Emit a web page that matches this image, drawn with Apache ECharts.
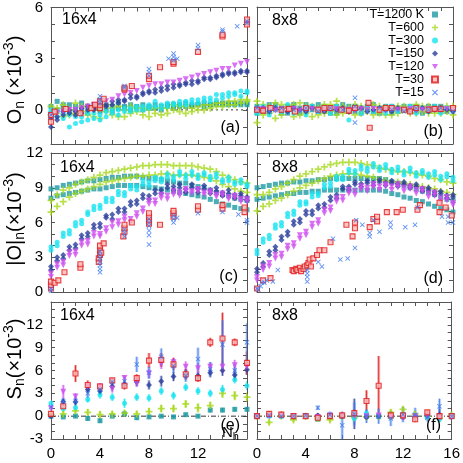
<!DOCTYPE html>
<html><head><meta charset="utf-8">
<script src="https://cdn.jsdelivr.net/npm/echarts@6/dist/echarts.min.js"></script>
<style>html,body{margin:0;padding:0;background:#fff}#c{width:463px;height:463px}</style>
</head><body><div id="c"></div>
<script>
// ---------------- DATA ----------------
const names = ['T=1200 K','T=600','T=300','T=150','T=120','T=30','T=15'];
const xTicks = [0,4,8,12,16];
const xHalf = [0,0.5,1,1.5,2,2.5,3,3.5,4,4.5,5,5.5,6,6.5,7,7.5,8,8.5,9,9.5,10,10.5,11,11.5,12,12.5,13,13.5,14,14.5,15,15.5,16];
const xInt = [0,1,2,3,4,5,6,7,8,9,10,11,12,13,14,15,16];

// (a) O_n, 16x4
const a_T1200_A = [0.2,0.5,0.1,0.3,0.0,0.4,0.2,0.3,-0.1,0.3,0.2,0.4,0.1,0.3,0.2,0.3,0.1,0.3,0.2,0.3,0.3,0.2,0.4,0.3,0.3,0.4,0.3,0.4,0.3,0.4,0.4,0.3,0.4];
const a_T1200_B = [-0.2,0.0,0.3,-0.1,0.2,0.0,-0.2,0.1,0.2,0.0,-0.1,0.1,0.2,0.0,0.1,0.0,0.2,0.1,0.0,0.2,0.1,0.3,0.2,0.2,0.3,0.2,0.3,0.3,0.4,0.3,0.3,0.4,0.3];
const a_T600_A = [-0.3,0.1,-0.4,0.0,-0.2,0.2,-0.3,0.0,-0.5,-0.1,0.1,-0.4,0.0,-0.2,0.1,-0.3,0.0,0.1,-0.3,0.1,0.0,0.2,-0.2,0.1,0.2,0.0,0.3,0.2,0.4,0.3,0.5,0.4,0.6];
const a_T600_B = [0.2,-0.2,0.3,-0.3,0.4,-0.1,0.2,-0.4,0.1,0.3,-0.3,0.2,-0.4,0.2,-0.1,0.1,-0.4,-0.2,0.1,-0.2,0.3,-0.1,0.2,-0.1,0.0,0.3,0.1,0.4,0.2,0.5,0.3,0.6,0.5];
const a_T300_A = [-0.3,-0.1,-0.5,-0.3,-0.8,-0.4,-0.2,-0.5,-0.3,-0.1,-0.2,0.0,-0.1,0.1,0.0,0.2,0.3,0.2,0.1,0.4,0.3,0.3,0.5,0.4,0.6,0.5,0.7,0.6,0.9,0.8,1.0,1.1,1.1];
const a_T300_B = [0.0,-0.4,-0.2,-1.0,-0.4,-0.7,-0.6,-0.2,-0.6,-0.4,0.0,-0.3,0.1,-0.1,0.2,0.0,0.1,0.5,0.3,0.2,0.4,0.5,0.3,0.6,0.4,0.7,0.5,0.9,0.7,1.0,0.9,0.8,1.0];
const a_T150_A = [-1.0,-0.4,-0.3,-0.2,-0.1,-0.2,0.0,0.1,0.2,0.3,0.5,0.4,0.6,0.7,0.8,1.0,1.1,1.2,1.3,1.2,1.3,1.5,1.6,1.5,1.7,1.8,1.9,2.0,2.1,2.1,2.2,2.2,2.3];
const a_T150_B = [-0.5,-0.6,-0.1,0.0,-0.3,0.1,0.2,0.0,0.4,0.2,0.3,0.6,0.5,0.9,0.7,0.9,1.0,1.0,1.1,1.4,1.5,1.4,1.5,1.7,1.6,1.9,1.8,1.9,2.0,2.2,2.1,2.3,2.2];
const a_T120_A = [-0.3,-0.2,-0.1,0.0,0.0,0.1,0.2,0.3,0.5,0.5,0.6,0.8,0.9,1.0,1.1,1.3,1.4,1.5,1.5,1.6,1.6,1.7,1.8,1.9,2.0,2.1,2.2,2.3,2.4,2.4,2.6,2.7,2.8];
const a_T30 = [[0,-0.7],[0,-0.3],[0.3,-0.1],[1.2,0.05],[2.4,-0.2],[3.3,0.1],[3.6,0.3],[4,0.1],[4,0.3],[4,0.5],[4.3,0.65],[6,1.2],[6,1.3],[6.6,1.4],[8,1.8],[8,2.0],[8.9,2.5],[10,2.7],[10,2.8],[12,3.4],[14,4.3],[14,4.4],[16,5.0],[16,5.3]];
const a_T15 = [[0,-0.3],[4,0.4],[4,0.6],[4,0.8],[6,1.3],[6,1.4],[8,2.0],[8,2.2],[8,2.4],[9.6,3.0],[10,2.9],[10,3.1],[10,3.3],[10.3,3.0],[12,3.6],[12,3.8],[14,4.6],[14,4.7],[15.2,4.9],[16,5.1],[16,5.2]];

// (b) O_n, 8x8
const b_T1200_A = [0.2,-0.1,0.3,0.0,-0.2,0.2,0.1,-0.2,0.3,0.0,-0.1,0.2,0.1,-0.2,0.0,0.2,-0.1,0.1,0.2,-0.1,0.0,0.2,-0.2,0.1,0.0,0.2,-0.1,0.1,0.0,0.2,-0.1,0.1,0.0];
const b_T1200_B = [-0.2,0.1,-0.1,0.3,0.1,-0.2,0.3,0.1,-0.1,0.2,0.3,-0.1,-0.2,0.2,0.3,-0.1,0.2,-0.2,0.0,0.3,-0.2,0.0,0.2,-0.1,0.2,-0.1,0.2,-0.2,0.2,0.0,0.2,-0.1,0.1];
const b_T600_A = [0.5,-0.3,0.2,-0.5,0.3,0.1,-0.4,0.4,-0.2,0.2,-0.3,0.3,-0.1,0.5,-0.2,0.1,-0.3,0.2,-0.1,0.3,-0.2,0.1,-0.3,0.2,0.0,-0.2,0.3,-0.1,0.2,-0.2,0.1,-0.1,0.2];
const b_T600_B = [-0.75,0.3,-0.2,0.4,-0.3,0.2,0.3,-0.3,0.2,-0.4,0.1,-0.2,0.3,-0.3,0.2,-0.1,0.3,-0.2,0.1,-0.3,0.2,-0.3,0.1,-0.2,0.2,0.1,-0.2,0.2,-0.2,0.1,-0.2,0.2,-0.3];
const b_T300_A = [-0.2,0.2,-0.3,0.1,-0.1,0.3,-0.2,0.0,-0.3,0.2,-0.1,0.1,-0.2,0.2,0.0,-0.6,0.1,-0.2,0.2,-0.1,0.1,-0.2,0.2,-0.1,0.0,0.2,-0.2,0.1,-0.1,0.2,-0.2,0.1,0.0];
const b_T150_A = [0.0,0.1,-0.1,0.1,0.0,-0.1,0.1,0.0,-0.1,0.1,0.0,-0.1,0.1,0.0,0.1,-0.1,0.0,0.1,-0.1,0.0,0.1,0.0,-0.1,0.1,0.0,-0.1,0.0,0.1,-0.1,0.0,0.1,0.0,-0.1];
const b_T120_A = [0.0,0.05,0.0,-0.05,0.05,0.0,0.05,-0.05,0.0,0.05,0.0,-0.05,0.0,0.05,0.0,0.0,-0.05,0.05,0.0,0.05,0.0,-0.05,0.05,0.0,0.0,0.05,-0.05,0.0,0.05,0.0,-0.05,0.05,0.0];
const b_T30 = [[0,0.0],[0.5,-0.05],[1.1,0.1],[2,0.0],[2.6,0.05],[3.1,-0.1],[4,0.1],[5,0.0],[5.5,0.1],[6,0.1],[6.9,0.0],[7.5,-0.05],[8,0.1],[9.1,0.4],[9.2,-1.05],[10,0.0],[10.5,0.1],[11,0.1],[12,0.0],[12.5,-0.1],[13,0.1],[14,0.0],[14.5,0.05],[15,0.05],[16,0.1]];
const b_T15 = [[0,0.1],[1,-0.1],[2,0.1],[3,0.0],[4,0.1],[5,-0.1],[6,0.1],[7,0.0],[8,0.7],[8,-0.75],[8,0.2],[9,-0.1],[10,0.1],[11,0.0],[12,-0.1],[13,0.1],[14,0.0],[15,0.1],[16,-0.1]];

// (c) |O|_n, 16x4
const c_T1200_lo = [8.1,8.3,8.4,8.5,8.6,8.7,8.8,8.9,8.9,9.0,9.1,9.2,9.2,9.2,9.2,9.1,9.0,9.0,8.9,8.8,8.7,8.6,8.5,8.4,8.3,8.2,8.0,7.8,7.6,7.5,7.3,7.2,7.1];
const c_T1200_hi = [8.9,9.0,9.2,9.3,9.4,9.5,9.6,9.6,9.7,9.8,9.9,9.9,10.0,10.0,10.0,9.9,9.8,9.8,9.7,9.6,9.5,9.4,9.4,9.2,9.1,9.0,8.8,8.6,8.4,8.3,8.1,8.0,7.9];
const c_T600_lo = [6.9,7.4,7.8,8.2,8.5,8.7,8.9,9.1,9.3,9.5,9.6,9.7,9.8,9.9,10.0,10.0,10.1,10.1,10.2,10.2,10.1,10.1,10.1,10.1,10.0,9.9,9.8,9.6,9.3,9.1,8.9,8.7,8.6];
const c_T600_hi = [7.9,8.4,8.8,9.0,9.3,9.5,9.7,9.9,10.1,10.3,10.4,10.5,10.6,10.7,10.8,10.9,10.9,11.0,11.0,11.0,10.9,10.9,10.9,10.9,10.8,10.7,10.6,10.4,10.1,9.9,9.7,9.5,9.4];
const c_T300_A = [3.6,4.3,4.8,5.3,5.7,6.2,6.7,7.1,7.5,7.8,8.1,8.4,8.6,8.9,9.1,9.3,9.5,9.6,9.8,9.9,10.0,10.1,10.1,10.1,10.1,10.1,10.0,9.9,9.7,9.6,9.5,9.4,9.3];
const c_T300_B = [3.9,4.0,5.1,5.0,6.0,5.9,6.9,7.4,7.2,8.1,7.8,8.7,8.3,9.2,8.8,9.6,9.2,9.9,9.5,10.2,9.7,10.4,9.8,10.4,9.8,10.3,9.7,10.2,9.5,9.9,9.3,9.7,9.1];
const c_T150_A = [2.2,2.7,3.2,3.6,4.1,4.6,5.1,5.5,5.9,6.4,6.7,6.9,7.2,7.5,7.9,8.1,8.3,8.5,8.8,9.0,9.1,9.0,8.9,9.0,8.9,8.9,8.8,8.7,8.6,8.5,8.4,8.3,8.2];
const c_T150_B = [1.9,3.0,2.9,3.9,3.8,4.9,4.8,5.8,5.6,6.6,6.3,7.2,6.9,7.8,7.6,8.4,8.0,8.8,8.5,9.3,8.8,9.3,8.6,9.3,8.6,9.2,8.5,9.0,8.3,8.8,8.1,8.5,7.9];
const c_T120_A = [1.6,2.1,2.6,3.1,3.5,4.0,4.4,4.8,5.0,5.5,6.0,6.1,6.2,6.3,6.5,7.2,7.6,7.9,8.1,8.3,8.4,8.6,8.7,8.7,8.7,8.6,8.5,8.4,8.3,8.2,8.1,8.0,7.8];
const c_T120_B = [1.3,2.4,2.3,3.4,3.2,4.3,4.1,5.1,4.8,5.2,5.6,5.8,6.5,6.0,6.8,6.9,7.9,7.6,8.4,8.0,8.7,8.3,8.9,8.5,8.9,8.4,8.7,8.2,8.5,8.0,8.3,7.8,8.0];
const c_T30 = [[0,0.3],[0,0.6],[0,0.9],[0.3,0.8],[0.6,1.0],[1.1,1.7],[2.4,2.1],[2.4,2.4],[3.9,2.6],[3.9,2.9],[4,3.2],[4,3.6],[4,4.0],[4.1,3.4],[4.3,4.2],[5.9,4.8],[6,5.2],[6,5.5],[6,5.8],[6.6,6.0],[8,5.9],[8,6.2],[8,6.5],[8,6.8],[8.9,5.8],[10,6.5],[10,6.8],[10,7.0],[12,7.1],[12,7.4],[14,7.2],[14,7.5],[15.8,6.9],[15.8,7.3]];
const c_T15 = [[0,0.1],[0,0.3],[4,1.7],[4,2.0],[4,2.3],[4,2.6],[4,2.9],[4,3.2],[4,3.5],[6,4.8],[6,5.1],[6,5.4],[8,4.1],[8,4.9],[8,5.3],[8,5.7],[8,6.0],[8,6.3],[10,6.0],[10,6.3],[10,6.6],[10.3,6.4],[12,6.8],[14,6.9],[15.3,6.7],[16,6.2],[16,6.0]];

// (d) |O|_n, 8x8
const d_T1200_lo = [8.0,8.1,8.2,8.3,8.4,8.5,8.5,8.6,8.6,8.7,8.7,8.8,8.8,8.8,8.8,8.8,8.8,8.8,8.8,8.8,8.8,8.7,8.5,8.4,8.2,8.1,7.9,7.8,7.6,7.4,7.2,7.1,6.9];
const d_T1200_hi = [9.0,9.1,9.2,9.3,9.4,9.4,9.5,9.5,9.6,9.6,9.7,9.7,9.8,9.8,9.8,9.8,9.8,9.8,9.8,9.8,9.8,9.7,9.5,9.4,9.2,9.0,8.9,8.7,8.6,8.4,8.2,8.0,7.9];
const d_T600_lo = [7.0,7.4,7.6,7.9,8.1,8.4,8.7,9.0,9.2,9.4,9.6,9.8,10.0,10.1,10.2,10.2,10.2,10.1,10.0,9.9,9.7,9.6,9.5,9.5,9.4,9.3,9.2,9.1,9.0,8.9,8.7,8.6,8.4];
const d_T600_hi = [8.4,8.4,8.6,8.9,9.1,9.4,9.7,10.0,10.2,10.4,10.6,10.8,11.0,11.1,11.2,11.2,11.2,11.1,11.0,10.9,10.7,10.6,10.5,10.4,10.4,10.3,10.2,10.1,10.0,9.8,9.7,9.5,9.4];
const d_T300_A = [3.6,4.3,4.9,5.5,6.0,6.5,7.0,7.5,7.8,8.2,8.5,9.0,9.4,9.7,10.0,10.3,10.5,10.6,10.7,10.8,10.8,10.7,10.6,10.5,10.4,10.4,10.3,10.25,10.2,10.1,10.0,9.95,9.9];
const d_T300_B = [3.3,4.6,4.6,5.8,5.7,6.8,6.7,7.8,7.6,8.5,8.3,9.3,9.1,10.0,9.7,10.6,10.2,10.9,10.4,11.1,10.5,11.0,10.3,10.8,10.1,10.7,10.0,10.5,9.9,10.4,9.7,10.2,9.6];
const d_T150_A = [1.7,2.5,3.2,3.9,4.5,5.2,5.8,6.3,6.7,7.0,7.2,7.6,7.9,8.4,8.9,9.1,9.3,9.35,9.4,9.45,9.5,9.45,9.4,9.35,9.3,9.2,9.1,8.95,8.8,8.65,8.5,8.35,8.2];
const d_T150_B = [2.0,2.2,3.5,3.6,4.8,4.9,6.1,6.0,7.0,6.7,7.5,7.3,8.2,8.1,9.1,8.8,9.5,9.1,9.6,9.2,9.7,9.2,9.6,9.1,9.5,9.0,9.3,8.7,9.0,8.4,8.7,8.1,8.4];
const d_T120_A = [1.3,1.9,2.5,2.9,3.3,3.7,4.2,4.6,5.2,5.6,6.2,6.8,7.3,7.8,8.2,8.5,8.7,8.85,9.0,9.05,9.1,9.1,9.1,9.05,9.0,8.9,8.8,8.65,8.5,8.3,8.1,7.9,7.7];
const d_T120_B = [1.0,2.2,2.2,3.2,3.0,4.0,3.9,4.9,4.9,5.9,5.9,7.1,7.0,8.1,7.9,8.8,8.4,9.1,8.7,9.3,8.8,9.3,8.8,9.3,8.7,9.1,8.5,8.9,8.2,8.6,7.8,8.2,7.5];
const d_T30 = [[0,0.3],[0.5,1.0],[1.1,1.2],[2.9,1.9],[3.0,1.8],[3.2,2.0],[3.3,1.9],[3.5,2.1],[3.6,1.8],[3.8,2.0],[3.9,2.2],[4.1,2.3],[4.2,2.5],[4.3,2.8],[4.4,2.2],[4.6,2.9],[4.9,3.2],[5.1,3.6],[5.5,3.6],[6,4.3],[7.3,5.8],[7.8,4.8],[8,5.5],[8,6.0],[9.2,5.6],[9.5,6.3],[9.8,6.1],[9.8,6.5],[10.6,6.9],[11.4,6.9],[11.9,7.1],[13.1,7.1],[13.3,7.5],[14.9,6.9],[14.9,7.7],[15.4,7.3],[15.9,6.6]];
const d_T15 = [[0,0.3],[0.1,0.2],[0.3,0.5],[0.4,0.8],[0.6,0.8],[0.8,1.0],[1.3,0.9],[1.7,1.9],[4.1,0.9],[4.1,1.3],[4.1,1.6],[4.1,1.9],[5,2.6],[5.3,2.2],[6.2,4.6],[6.8,2.8],[7.4,2.9],[8,3.8],[8.1,6.2],[8.6,5.8],[9.2,4.8],[9.2,5.1],[9.5,6.2],[10,5.2],[10.9,5.6],[10.9,6.0],[12.1,5.6],[12.9,5.8],[13.1,7.3],[15.1,6.5],[15.6,6.0],[15.6,6.5],[16,6.0]];

// (e) S_n, 16x4 at N_h = 0..16, with errors
const e_T1200 = [0.0,-0.1,0.0,-0.3,-0.6,0.0,0.3,-0.2,-0.1,0.0,-0.1,0.2,0.0,0.8,0.8,0.9,0.9];
const e_T600  = [0.2,0.3,0.7,0.5,0.2,0.3,0.4,0.3,0.6,1.0,1.0,1.6,1.1,1.4,3.0,2.7,2.5];
const e_T300  = [1.7,1.0,1.1,2.2,2.8,2.5,1.7,2.5,2.4,3.3,2.7,3.8,3.3,3.0,3.5,4.8,4.0];
const e_T150  = [0.0,1.9,1.9,3.5,3.3,3.9,4.2,4.5,4.1,4.6,5.2,5.5,5.3,5.7,6.0,5.4,6.1];
const e_T120  = [1.0,3.2,2.6,3.9,3.9,3.6,5.0,4.4,5.6,6.9,7.1,6.5,6.3,6.5,6.5,6.7,6.5];
const e_T30   = [0.3,1.3,5.6,4.1,3.9,4.7,4.0,5.0,7.3,7.4,6.8,5.5,5.0,9.7,10.2,9.7,7.0];
const e_T15   = [1.2,1.9,2.0,3.0,3.5,4.5,4.6,6.8,5.7,7.8,6.6,5.3,7.5,6.2,9.4,6.0,9.7];
const e_T1200_err = [0.2,0.2,0.2,0.3,0.3,0.2,0.3,0.3,0.2,0.2,0.2,0.2,0.2,0.3,0.3,0.3,0.3];
const e_T600_err  = [0.4,0.4,0.4,0.4,0.5,0.4,0.4,0.4,0.5,0.5,0.5,0.5,0.6,0.5,0.6,0.6,0.6];
const e_T300_err  = [0.4,0.4,0.4,0.4,0.5,0.5,0.6,0.5,0.5,0.5,0.5,0.5,0.5,0.5,0.6,0.5,0.6];
const e_T150_err  = [0.3,0.4,0.5,0.5,0.5,0.5,0.5,0.6,0.6,0.7,0.6,0.6,0.6,0.6,0.7,0.7,0.7];
const e_T120_err  = [0.3,0.9,0.4,0.5,0.4,0.5,0.4,0.5,0.6,0.7,0.6,0.7,0.7,0.6,0.8,0.7,0.8];
const e_T30_err   = [0.3,0.3,1.1,0.6,0.4,0.3,0.5,0.5,1.0,0.9,0.8,0.7,0.5,0.6,3.4,0.5,1.5];
const e_T15_err   = [0.3,0.5,0.5,0.6,0.5,0.5,0.6,1.0,0.8,1.1,0.9,0.8,1.5,0.9,3.2,0.8,2.5];

// (f) S_n, 8x8
const f_T1200 = [0.0,0.1,0.1,0.0,0.0,-0.4,0.0,0.0,0.0,0.0,0.0,0.0,0.0,0.0,0.0,0.0,0.0];
const f_T600  = [0.0,-0.8,0.0,-0.5,0.0,-0.3,-0.5,0.0,-0.2,-0.1,0.0,0.5,0.9,0.3,0.0,-0.3,0.2];
const f_T300  = [0.0,0.0,0.0,0.1,0.0,-0.2,0.0,0.0,-0.3,0.4,0.0,-0.1,0.0,-0.1,-0.1,-0.4,0.0];
const f_T150  = [0.0,0.2,0.1,0.0,0.0,0.1,0.0,0.0,0.3,-0.1,0.0,0.1,0.0,0.0,0.1,0.2,0.0];
const f_T120  = [0.0,0.0,0.1,0.0,0.0,-0.1,0.1,0.0,0.0,0.0,0.1,0.0,-0.2,0.0,0.0,-0.2,0.0];
const f_T30   = [0.0,0.3,0.2,0.0,0.0,-0.2,0.0,0.1,0.4,2.0,4.0,0.1,0.1,-0.4,0.5,0.0,0.0];
const f_T15   = [0.0,0.1,0.0,0.0,0.1,1.1,0.2,-1.2,0.3,0.0,0.0,-0.3,0.2,0.2,-0.2,1.3,0.0];
const f_T1200_err = [0.1,0.1,0.1,0.1,0.1,0.2,0.1,0.1,0.1,0.1,0.1,0.1,0.1,0.1,0.1,0.1,0.1];
const f_T600_err  = [0.2,0.3,0.3,0.3,0.2,0.3,0.3,0.3,0.3,0.3,0.3,0.4,0.4,0.4,0.3,0.3,0.3];
const f_T300_err  = [0.2,0.2,0.2,0.3,0.2,0.3,0.3,0.3,0.4,0.4,0.3,0.3,0.3,0.3,0.3,0.4,0.3];
const f_T150_err  = [0.2,0.2,0.2,0.2,0.2,0.3,0.3,0.3,2.0,0.4,0.4,0.5,0.5,0.4,0.3,0.8,0.3];
const f_T120_err  = [0.1,0.2,0.2,0.2,0.2,0.2,0.2,0.2,0.3,0.3,0.3,0.3,0.3,0.3,0.3,0.3,0.3];
const f_T30_err   = [0.2,0.3,0.4,0.3,0.2,0.3,0.3,0.4,0.5,1.4,3.9,0.5,0.5,0.4,0.3,0.4,0.3];
const f_T15_err   = [0.2,0.3,0.3,0.3,0.3,0.3,0.4,1.8,1.5,0.9,1.0,1.0,1.0,0.9,0.5,1.0,0.5];

const yRanges = [[-2,6],[0,12],[-3,15]];
const yLabelStep = 3;

// ---------------- STYLE / BUILD ----------------
const FONT = 'Liberation Sans, Arial, sans-serif';
const colors = ['#1c9aa2','#a6d81c','#16e4f0','#2c3e9c','#d04ef0','#e01818','#3b78f0'];
const PLUS = 'path://M3,0H5V3H8V5H5V8H3V5H0V3H3Z';
const CROSS = 'path://M1,0L4,3L7,0L8,1L5,4L8,7L7,8L4,5L1,8L0,7L3,4L0,1Z';
const TRIDOWN = 'path://M0,0L8,0L4,7Z';
const symbols = ['rect',PLUS,'circle','diamond',TRIDOWN,'rect',CROSS];
const sizes = [5,7,5,6,6,5,5];
function sty(k){ return k===5 ? {color:'#ffb8b8',borderColor:colors[5],borderWidth:1.1} : {color:colors[k]}; }
function pairs(xs, ys){ return xs.map((x,i)=>[x, ys[i]]); }

const panelData = [
  [ pairs(xHalf,a_T1200_A).concat(pairs(xHalf,a_T1200_B)), pairs(xHalf,a_T600_A).concat(pairs(xHalf,a_T600_B)),
    pairs(xHalf,a_T300_A).concat(pairs(xHalf,a_T300_B)), pairs(xHalf,a_T150_A).concat(pairs(xHalf,a_T150_B)),
    pairs(xHalf,a_T120_A), a_T30, a_T15 ],
  [ pairs(xHalf,b_T1200_A).concat(pairs(xHalf,b_T1200_B)), pairs(xHalf,b_T600_A).concat(pairs(xHalf,b_T600_B)),
    pairs(xHalf,b_T300_A), pairs(xHalf,b_T150_A), pairs(xHalf,b_T120_A), b_T30, b_T15 ],
  [ pairs(xHalf,c_T1200_lo).concat(pairs(xHalf,c_T1200_hi)), pairs(xHalf,c_T600_lo).concat(pairs(xHalf,c_T600_hi)),
    pairs(xHalf,c_T300_A).concat(pairs(xHalf,c_T300_B)), pairs(xHalf,c_T150_A).concat(pairs(xHalf,c_T150_B)),
    pairs(xHalf,c_T120_A).concat(pairs(xHalf,c_T120_B)), c_T30, c_T15 ],
  [ pairs(xHalf,d_T1200_lo).concat(pairs(xHalf,d_T1200_hi)), pairs(xHalf,d_T600_lo).concat(pairs(xHalf,d_T600_hi)),
    pairs(xHalf,d_T300_A).concat(pairs(xHalf,d_T300_B)), pairs(xHalf,d_T150_A).concat(pairs(xHalf,d_T150_B)),
    pairs(xHalf,d_T120_A).concat(pairs(xHalf,d_T120_B)), d_T30, d_T15 ],
  [ pairs(xInt,e_T1200), pairs(xInt,e_T600), pairs(xInt,e_T300), pairs(xInt,e_T150), pairs(xInt,e_T120), pairs(xInt,e_T30), pairs(xInt,e_T15) ],
  [ pairs(xInt,f_T1200), pairs(xInt,f_T600), pairs(xInt,f_T300), pairs(xInt,f_T150), pairs(xInt,f_T120), pairs(xInt,f_T30), pairs(xInt,f_T15) ]
];
const errData = {
  4: [e_T1200_err,e_T600_err,e_T300_err,e_T150_err,e_T120_err,e_T30_err,e_T15_err],
  5: [f_T1200_err,f_T600_err,f_T300_err,f_T150_err,f_T120_err,f_T30_err,f_T15_err]
};
const valData = {4:[e_T1200,e_T600,e_T300,e_T150,e_T120,e_T30,e_T15], 5:[f_T1200,f_T600,f_T300,f_T150,f_T120,f_T30,f_T15]};

const gridBoxes = [
  {left:51,top:7,width:196,height:137},{left:257,top:7,width:196,height:137},
  {left:51,top:153,width:196,height:139},{left:257,top:153,width:196,height:139},
  {left:51,top:302,width:196,height:137},{left:257,top:302,width:196,height:137}
];
const AX = '#555';
const grid=[], xAxis=[], yAxis=[], series=[];
gridBoxes.forEach((b,g)=>{
  grid.push(Object.assign({containLabel:false}, b));
  const row = Math.floor(g/2), col = g%2;
  const [ymin,ymax] = yRanges[row];
  const common = {gridIndex:g, type:'value', splitLine:{show:false},
    axisLine:{show:true,onZero:false,lineStyle:{color:AX,width:1}},
    axisTick:{show:true,inside:true,length:4,lineStyle:{color:AX,width:1}}};
  xAxis.push(Object.assign({}, common, {min:0,max:16,interval:1,position:'bottom',
    axisLabel:{show:row===2, margin:7, color:'#000', fontSize:15, fontFamily:FONT,
      formatter:v=> (xTicks.indexOf(v)>=0 && !(g===4 && v===16)) ? String(v) : ''}}));
  xAxis.push(Object.assign({}, common, {min:0,max:16,interval:1,position:'top',axisLabel:{show:false}}));
  yAxis.push(Object.assign({}, common, {min:ymin,max:ymax,interval:1,position:'left',
    axisLabel:{show:col===0, margin:8, color:'#000', fontSize:15, fontFamily:FONT,
      formatter:v=> (v%yLabelStep===0 && v<ymax+ (row===2?-0.5:1)) ? String(v) : ''}}));
  yAxis.push(Object.assign({}, common, {min:ymin,max:ymax,interval:1,position:'right',axisLabel:{show:false}}));

  if (g===0 || g===1 || g===4 || g===5) {
    series.push({type:'line', xAxisIndex:2*g, yAxisIndex:2*g, data:[[0,0],[16,0]], symbol:'none', silent:true, z:1,
      lineStyle:{color:'#333', width:1, type: g<2 ? [2,3] : [5,2,1,2]}});
  }
  if (errData[g]) {
    for (let k=0;k<7;k++){
      const ys = valData[g][k], es = errData[g][k];
      const dat = xInt.map((x,i)=>[x, ys[i], es[i]]);
      series.push({type:'custom', xAxisIndex:2*g, yAxisIndex:2*g, silent:true, z:2, clip:true,
        encode:{x:0,y:1}, data:dat,
        renderItem:(params, api)=>{
          const x=api.value(0), y=api.value(1), e=api.value(2);
          const a=api.coord([x,y+e]), c=api.coord([x,y-e]);
          return {type:'group', children:[
            {type:'line', shape:{x1:a[0],y1:a[1],x2:c[0],y2:c[1]}, style:{stroke:colors[k], lineWidth:3, opacity:0.35}},
            {type:'line', shape:{x1:a[0],y1:a[1],x2:c[0],y2:c[1]}, style:{stroke:colors[k], lineWidth:1, opacity:0.8}}
          ]};
        }});
    }
  }
  for (let k=0;k<7;k++){
    series.push({type:'scatter', name:names[k], xAxisIndex:2*g, yAxisIndex:2*g, data:panelData[g][k],
      symbol:symbols[k], symbolSize:sizes[k], itemStyle:sty(k), z:3, silent:true});
  }
});

const txt = (x,y,text,opt)=>({type:'text', x, y, silent:true, z:10, rotation:(opt&&opt.rot)||0,
  style:Object.assign({text, fill:'#000', fontFamily:FONT, fontSize:16, align:'left', verticalAlign:'middle'}, opt&&opt.style||{})});
const richY = {m:{fontSize:20,fontFamily:FONT,lineHeight:25,verticalAlign:'middle'},
               s:{fontSize:14,fontFamily:FONT,lineHeight:14,verticalAlign:'bottom'},
               p:{fontSize:14,fontFamily:FONT,lineHeight:14,verticalAlign:'top'}};
const graphic = [
  txt(15,80,'{m|O}{s|n}{m| (×10}{p|-3}{m|)}',{rot:Math.PI/2, style:{align:'center',rich:richY}}),
  txt(15,219,'{m||O|}{s|n}{m|(×10}{p|-3}{m|)}',{rot:Math.PI/2, style:{align:'center',rich:richY}}),
  txt(15,359,'{m|S}{s|n}{m|(×10}{p|-3}{m|)}',{rot:Math.PI/2, style:{align:'center',rich:richY}}),
  txt(62,20,'16x4'), txt(272,21,'8x8'),
  txt(60,168,'16x4'), txt(272,168,'8x8'),
  txt(60,316,'16x4'), txt(272,316,'8x8'),
  txt(240,128,'(a)',{style:{align:'right'}}), txt(443,132,'(b)',{style:{align:'right'}}),
  txt(238,277,'(c)',{style:{align:'right'}}), txt(443,279,'(d)',{style:{align:'right'}}),
  txt(240,426,'(e)',{style:{align:'right'}}), txt(441,426,'(f)',{style:{align:'right'}}),
  txt(222,433,'{n|N}{h|h}',{style:{rich:{n:{fontSize:15,fontFamily:FONT,lineHeight:18,verticalAlign:'middle'},
                                          h:{fontSize:11,fontFamily:FONT,lineHeight:11,verticalAlign:'bottom'}}}})
];

const chart = echarts.init(document.getElementById('c'), null, {renderer:'canvas'});
chart.setOption({
  animation:false,
  backgroundColor:'#fff',
  grid, xAxis, yAxis, series, graphic,
  legend:{data:names, orient:'vertical', align:'right', right:24, top:8, padding:0, itemGap:0,
    itemWidth:6, itemHeight:6, selectedMode:false,
    textStyle:{fontSize:12.5, fontFamily:FONT, color:'#000', lineHeight:12.9, padding:[0,3,0,0]}}
});
</script></body></html>
